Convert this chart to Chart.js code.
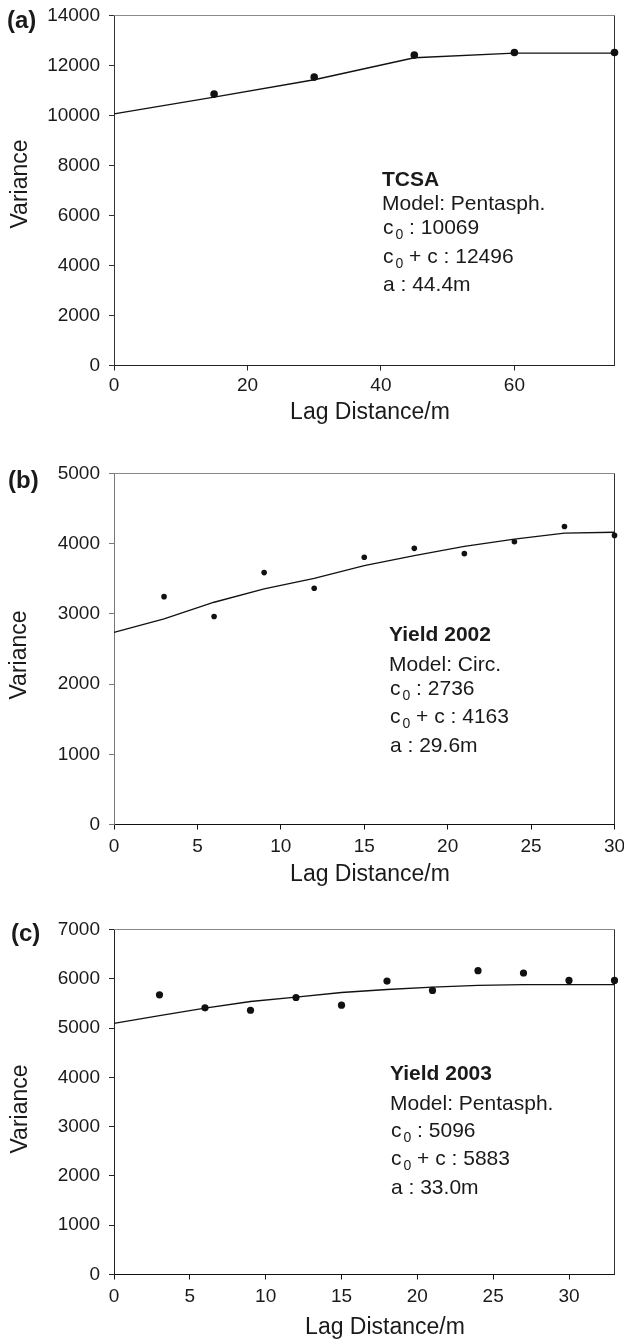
<!DOCTYPE html>
<html>
<head>
<meta charset="utf-8">
<script src="https://cdn.jsdelivr.net/npm/chart.js"></script>
<style>
  body { margin: 0; background: #fff; }
  .panel { position: absolute; left: 0; width: 624px; }
  #wrapA { top: 0; height: 440px; }
  #wrapB { top: 440px; height: 460px; }
  #wrapC { top: 880px; height: 462px; }
</style>
</head>
<body>
<div class="panel" id="wrapA"><canvas id="chartA"></canvas></div>
<div class="panel" id="wrapB"><canvas id="chartB"></canvas></div>
<div class="panel" id="wrapC"><canvas id="chartC"></canvas></div>
<script>
// ===== Data =====
// (a) TCSA
const lagA = [15, 30, 45, 60, 75];
const varA = [10856, 11536, 12416, 12520, 12520];
const modelLagA = [0, 15, 30, 45, 60, 75];
const modelA = [10069, 10736, 11430, 12310, 12496, 12496];
const xTicksA = [0, 20, 40, 60];
const yTicksA = [0, 2000, 4000, 6000, 8000, 10000, 12000, 14000];
const noteA = ['TCSA', 'Pentasph.', '10069', '12496', '44.4m'];

// (b) Yield 2002
const lagB = [3, 6, 9, 12, 15, 18, 21, 24, 27, 30];
const varB = [3246, 2962, 3588, 3365, 3806, 3934, 3858, 4028, 4246, 4118];
const modelLagB = [0, 3, 6, 9, 12, 15, 18, 21, 24, 27, 30];
const modelB = [2736, 2929, 3166, 3355, 3507, 3687, 3829, 3962, 4066, 4152, 4163];
const xTicksB = [0, 5, 10, 15, 20, 25, 30];
const yTicksB = [0, 1000, 2000, 3000, 4000, 5000];
const noteB = ['Yield 2002', 'Circ.', '2736', '4163', '29.6m'];

// (c) Yield 2003
const lagC = [3, 6, 9, 12, 15, 18, 21, 24, 27, 30, 33];
const varC = [5675, 5410, 5362, 5620, 5464, 5953, 5763, 6164, 6117, 5967, 5967];
const modelLagC = [0, 3, 6, 9, 12, 15, 18, 21, 24, 27, 30, 33];
const modelC = [5096, 5253, 5403, 5539, 5627, 5722, 5783, 5831, 5865, 5880, 5883, 5883];
const xTicksC = [0, 5, 10, 15, 20, 25, 30];
const yTicksC = [0, 1000, 2000, 3000, 4000, 5000, 6000, 7000];
const noteC = ['Yield 2003', 'Pentasph.', '5096', '5883', '33.0m'];

const FONT = "'Liberation Sans', Arial, Helvetica, sans-serif";
const INK = '#1a1a1a';

function toXY(xs, ys) {
  return xs.map((x, i) => ({ x: x, y: ys[i] }));
}

// c with subscript 0, then the rest of the line
function drawSubLine(ctx, x, y, rest) {
  ctx.font = '21px ' + FONT;
  ctx.fillText('c', x + 1, y);
  let w = 1 + ctx.measureText('c').width + 2;
  ctx.font = '14px ' + FONT;
  ctx.fillText('0', x + w, y + 5);
  w += ctx.measureText('0').width;
  ctx.font = '21px ' + FONT;
  ctx.fillText(rest, x + w, y);
}

// ===== Text + frame plugin =====
const panelText = {
  id: 'panelText',
  beforeDatasetsDraw(chart, args, opts) {
    const { ctx, chartArea: a } = chart;
    ctx.save();
    ctx.lineWidth = 1;
    ctx.strokeStyle = '#8a8a8a';
    ctx.beginPath();
    ctx.moveTo(a.left, a.top);
    ctx.lineTo(a.right, a.top);
    ctx.stroke();
    ctx.strokeStyle = '#333';
    ctx.beginPath();
    ctx.moveTo(a.right, a.top);
    ctx.lineTo(a.right, a.bottom);
    ctx.stroke();
    ctx.restore();
  },
  afterDraw(chart, args, opts) {
    const ctx = chart.ctx;
    ctx.save();
    ctx.fillStyle = INK;
    ctx.textAlign = 'left';
    ctx.textBaseline = 'alphabetic';

    // panel letter
    ctx.font = 'bold 24px ' + FONT;
    ctx.fillText(opts.letter, opts.letterX, opts.letterY);

    // model annotation
    const n = opts.note, x = opts.noteX, ys = opts.noteY;
    ctx.font = 'bold 21px ' + FONT;
    ctx.fillText(n[0], x, ys[0]);
    ctx.font = '21px ' + FONT;
    ctx.fillText('Model: ' + n[1], x, ys[1]);
    drawSubLine(ctx, x, ys[2], ' : ' + n[2]);
    drawSubLine(ctx, x, ys[3], ' + c : ' + n[3]);
    ctx.font = '21px ' + FONT;
    ctx.fillText('a : ' + n[4], x + 1, ys[4]);

    // axis titles
    ctx.font = '23px ' + FONT;
    ctx.textAlign = 'center';
    ctx.textBaseline = 'middle';
    ctx.fillText('Lag Distance/m', opts.xTitle[0], opts.xTitle[1]);
    ctx.translate(opts.yTitle[0], opts.yTitle[1]);
    ctx.rotate(-Math.PI / 2);
    ctx.fillText('Variance', 0, 0);
    ctx.restore();
  }
};

function makePanel(cfg) {
  const canvas = document.getElementById(cfg.id);
  const H = canvas.parentNode.clientHeight;
  return new Chart(canvas, {
    type: 'scatter',
    data: {
      datasets: [
        {
          data: toXY(cfg.modelLags, cfg.model),
          showLine: true,
          borderColor: '#111',
          borderWidth: 1.3,
          pointRadius: 0,
          tension: 0,
          clip: false
        },
        {
          data: toXY(cfg.lags, cfg.vars),
          showLine: false,
          backgroundColor: '#111',
          borderWidth: 0,
          pointRadius: cfg.radius,
          clip: false
        }
      ]
    },
    options: {
      responsive: true,
      maintainAspectRatio: false,
      animation: false,
      events: [],
      layout: { autoPadding: false, padding: { left: 0, right: 9.5, top: cfg.top, bottom: 0 } },
      plugins: {
        legend: { display: false },
        tooltip: { enabled: false },
        panelText: cfg.text
      },
      scales: {
        x: {
          type: 'linear',
          min: 0,
          max: cfg.xMax,
          afterBuildTicks: s => { s.ticks = cfg.xTicks.map(v => ({ value: v })); },
          afterFit: s => {
            s.height = H - cfg.bottom;
            s.paddingLeft = 0;
            s.paddingRight = 0;
          },
          grid: { drawOnChartArea: false, drawTicks: true, tickLength: 5, color: cfg.bottomColor },
          border: { display: true, color: cfg.bottomColor, width: 1 },
          ticks: {
            padding: cfg.xPad, color: INK, maxRotation: 0, autoSkip: false,
            font: { family: FONT, size: 19 },
            callback: v => String(v)
          }
        },
        y: {
          type: 'linear',
          min: 0,
          max: cfg.yTicks[cfg.yTicks.length - 1],
          afterBuildTicks: s => { s.ticks = cfg.yTicks.map(v => ({ value: v })); },
          afterFit: s => {
            s.width = 114;
            s.paddingTop = 0;
            s.paddingBottom = 0;
          },
          grid: { drawOnChartArea: false, drawTicks: true, tickLength: 5, color: cfg.leftColor },
          border: { display: true, color: cfg.leftColor, width: 1 },
          ticks: {
            padding: 9, color: INK, autoSkip: false,
            font: { family: FONT, size: 19 },
            callback: v => String(v)
          }
        }
      }
    },
    plugins: [panelText]
  });
}

makePanel({
  id: 'chartA', lags: lagA, vars: varA, modelLags: modelLagA, model: modelA,
  xMax: 75, xTicks: xTicksA, yTicks: yTicksA, top: 15.5, bottom: 365.5, xPad: 4,
  radius: 3.8, leftColor: '#333', bottomColor: '#222',
  text: {
    letter: '(a)', letterX: 7, letterY: 28, note: noteA, noteX: 382,
    noteY: [186, 210, 234, 262.5, 290.5], xTitle: [370, 413], yTitle: [21, 184]
  }
});

makePanel({
  id: 'chartB', lags: lagB, vars: varB, modelLags: modelLagB, model: modelB,
  xMax: 30, xTicks: xTicksB, yTicks: yTicksB, top: 33.5, bottom: 384.5, xPad: 5.5,
  radius: 2.8, leftColor: '#777', bottomColor: '#111',
  text: {
    letter: '(b)', letterX: 8, letterY: 48, note: noteB, noteX: 389,
    noteY: [200.5, 230.5, 255, 282.5, 311.5], xTitle: [370, 435], yTitle: [20, 215]
  }
});

makePanel({
  id: 'chartC', lags: lagC, vars: varC, modelLags: modelLagC, model: modelC,
  xMax: 33, xTicks: xTicksC, yTicks: yTicksC, top: 49.5, bottom: 394.5, xPad: 6,
  radius: 3.6, leftColor: '#222', bottomColor: '#111',
  text: {
    letter: '(c)', letterX: 11, letterY: 61, note: noteC, noteX: 390,
    noteY: [199.5, 229.5, 256.5, 285, 313.5], xTitle: [385, 447.5], yTitle: [21, 229]
  }
});
</script>
</body>
</html>
